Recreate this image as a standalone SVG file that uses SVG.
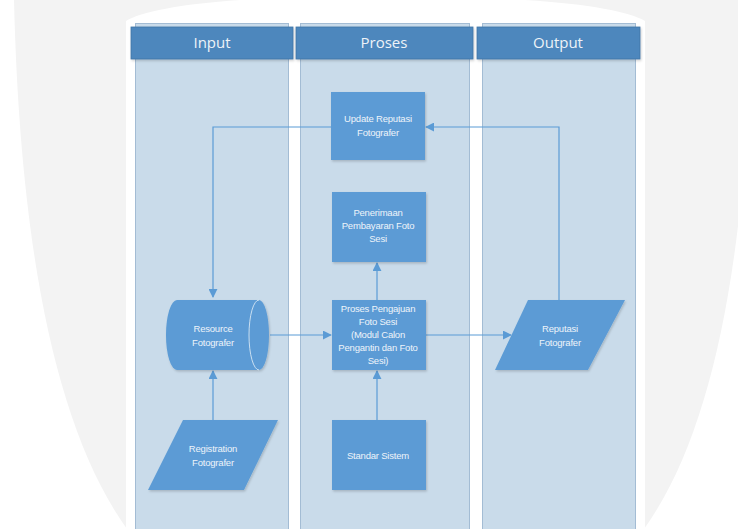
<svg xmlns="http://www.w3.org/2000/svg" width="738" height="529" viewBox="0 0 738 529">
<defs>
<marker id="arr" viewBox="0 0 10 10" refX="9" refY="5" markerWidth="9" markerHeight="9" markerUnits="userSpaceOnUse" orient="auto">
<path d="M0,0 L10,5 L0,10 Z" fill="#5b9bd5"/>
</marker>
<filter id="sh" x="-10%" y="-10%" width="130%" height="130%">
<feDropShadow dx="1" dy="1.5" stdDeviation="1.2" flood-color="#000" flood-opacity="0.18"/>
</filter>
<style>
.lane{fill:#c9dbea;stroke:#a3bcd4;stroke-width:1}
.hdr{fill:#4e87bd;stroke:#3f74a6;stroke-width:0.8}
.hdrt{font-family:"Open Sans","Noto Sans",sans-serif;font-size:15px;fill:#eef3f8;text-anchor:middle}
.node{fill:#5b9bd5;filter:url(#sh)}
.t{font-family:"Liberation Sans","DejaVu Sans",sans-serif;font-size:9.5px;fill:#eef4fa;text-anchor:middle;letter-spacing:-0.2px}
.c{fill:none;stroke:#5b9bd5;stroke-width:1.2;marker-end:url(#arr)}
</style>
</defs>
<rect width="738" height="529" fill="#ffffff"/>
<path d="M14,0 L752,0 C748,250 715,430 644,529 L127,529 C56,430 20,250 14,0 Z" fill="#f3f3f3"/>
<path d="M240,0 C180,4 140,12 126,21 L645,21 C630,12 590,4 525,0 Z" fill="#ffffff"/>
<rect x="126" y="21" width="519" height="508" fill="#ffffff"/>
<g id="lanes">
<rect class="lane" x="135.5" y="23.5" width="153" height="510"/>
<rect class="lane" x="300.5" y="23.5" width="169" height="510"/>
<rect class="lane" x="482.5" y="23.5" width="153" height="510"/>
</g>
<g id="headers">
<rect class="hdr" x="131" y="27" width="162" height="32" filter="url(#sh)"/>
<text class="hdrt" x="212" y="48">Input</text>
<rect class="hdr" x="296" y="27" width="177" height="32" filter="url(#sh)"/>
<text class="hdrt" x="384" y="48">Proses</text>
<rect class="hdr" x="477" y="27" width="163" height="32" filter="url(#sh)"/>
<text class="hdrt" x="558" y="48">Output</text>
</g>
<g id="connectors">
<path class="c" d="M331,127 L213,127 L213,297"/>
<path class="c" d="M559,300 L559,127 L426,127"/>
<path class="c" d="M270,335 L331,335"/>
<path class="c" d="M426,335 L511,335"/>
<path class="c" d="M377,300 L377,263"/>
<path class="c" d="M377,420 L377,371"/>
<path class="c" d="M213,420 L213,371"/>
</g>
<g id="update">
<rect class="node" x="331" y="92" width="94" height="68"/>
<text class="t" x="378" y="122">Update Reputasi</text>
<text class="t" x="378" y="136">Fotografer</text>
</g>
<g id="penerimaan">
<rect class="node" x="332" y="192" width="94" height="70"/>
<text class="t" x="378" y="216">Penerimaan</text>
<text class="t" x="378" y="229">Pembayaran Foto</text>
<text class="t" x="378" y="242">Sesi</text>
</g>
<g id="pengajuan">
<rect class="node" x="332" y="300" width="94" height="70"/>
<text class="t" x="378" y="312">Proses Pengajuan</text>
<text class="t" x="378" y="325">Foto Sesi</text>
<text class="t" x="378" y="338">(Modul Calon</text>
<text class="t" x="378" y="351">Pengantin dan Foto</text>
<text class="t" x="378" y="364">Sesi)</text>
</g>
<g id="standar">
<rect class="node" x="332" y="420" width="94" height="70"/>
<text class="t" x="378" y="459">Standar Sistem</text>
</g>
<g id="resource">
<path class="node" d="M177,300 L259,300 A10,35 0 0 1 259,370 L177,370 A11,35 0 0 1 177,300 Z"/>
<path d="M259,300 A10,35 0 0 0 259,370" fill="none" stroke="#d6e6f4" stroke-width="0.9"/>
<text class="t" x="213" y="332">Resource</text>
<text class="t" x="213" y="346">Fotografer</text>
</g>
<g id="reputasi">
<path class="node" d="M528,300 L625,300 L588,370 L495,370 Z"/>
<text class="t" x="560" y="332">Reputasi</text>
<text class="t" x="560" y="346">Fotografer</text>
</g>
<g id="registration">
<path class="node" d="M183,420 L278,420 L244,490 L148,490 Z"/>
<text class="t" x="213" y="452">Registration</text>
<text class="t" x="213" y="466">Fotografer</text>
</g>
</svg>
